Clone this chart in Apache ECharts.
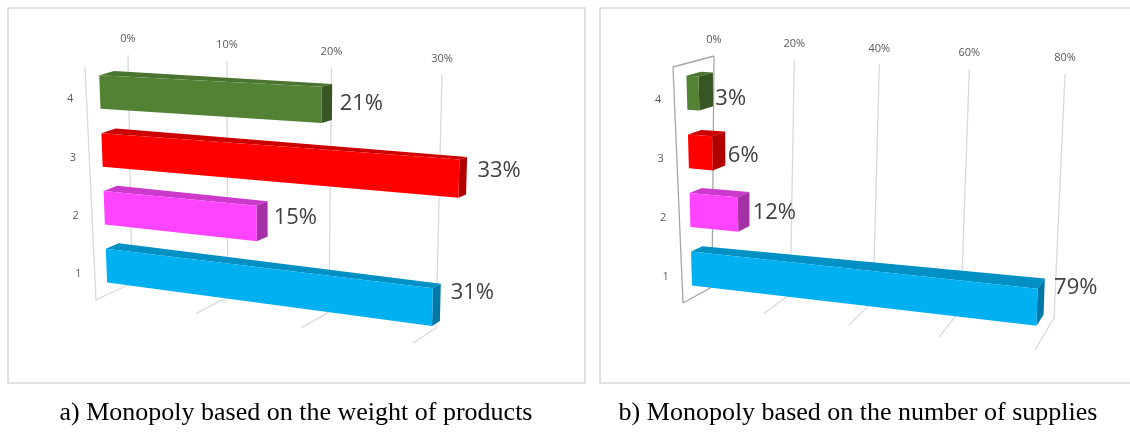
<!DOCTYPE html>
<html>
<head>
<meta charset="utf-8">
<title>Monopoly</title>
<script src="https://cdn.jsdelivr.net/npm/echarts@6/dist/echarts.min.js"></script>
<style>
  html, body { margin: 0; padding: 0; background: #fff; }
  #main { width: 1130px; height: 441px; }
</style>
</head>
<body>
<div id="main"></div>
<script>
  // data
  var categories = ['1', '2', '3', '4'];
  var weightShare = [31, 15, 33, 21];   // a) by weight of products, %
  var supplyShare = [79, 12, 6, 3];     // b) by number of supplies, %
  var weightTicks = [0, 10, 20, 30];
  var supplyTicks = [0, 20, 40, 60, 80];
  var captions = ['a) Monopoly based on the weight of products', 'b) Monopoly based on the number of supplies'];

  // front / top / side colour for each category
  var faces = [
    ['#00b0f0', '#0090c4', '#0079a8'],
    ['#ff44ff', '#cc3acc', '#a630a6'],
    ['#ff0000', '#cc0000', '#b00000'],
    ['#548235', '#4a7430', '#375623']
  ];

  // the 3d plot box of each panel: front edge (d=0) and back wall (d=1)
  // persp = how much the value axis stretches towards the right
  var frames = [
    {
      front: { tl: [85, 67], tr: [418, 80], bl: [96, 300], br: [413, 343] },
      back: { tl: [128, 55], tr: [442, 75], bl: [132, 283], br: [436, 328] },
      bar: [0.32, 0.67], persp: 0.08, sideTop: false
    },
    {
      front: { tl: [673, 67], tr: [1040, 88], bl: [683, 303], br: [1035, 350] },
      back: { tl: [714, 56], tr: [1065, 74], bl: [712, 287], br: [1054, 318] },
      bar: [0.32, 0.68], persp: 0.11, sideTop: true
    }
  ];

  function lerp(a, b, t) {
    return [a[0] + (b[0] - a[0]) * t, a[1] + (b[1] - a[1]) * t];
  }
  // u = along value axis, v = up, d = depth
  function project(f, u, v, d) {
    var c = f.persp;
    u = (1 - c) * u / (1 - c * u);
    var top = lerp(lerp(f.front.tl, f.front.tr, u), lerp(f.back.tl, f.back.tr, u), d);
    var bot = lerp(lerp(f.front.bl, f.front.br, u), lerp(f.back.bl, f.back.br, u), d);
    return lerp(bot, top, v);
  }
  function toUV(params, api, value, cat) {
    var cs = params.coordSys;
    var p = api.coord([value, cat]);
    return [(p[0] - cs.x) / cs.width, (cs.y + cs.height - p[1]) / cs.height];
  }

  function barItem(k) {
    return function (params, api) {
      var f = frames[k], cs = params.coordSys;
      var val = api.value(0), cat = api.value(1);
      var a = toUV(params, api, 0, cat), b = toUV(params, api, val, cat);
      var half = api.size([0, 1])[1] * 0.29 / cs.height;
      var u0 = a[0], u1 = b[0], vc = a[1], vb = vc - half, vt = vc + half;
      var d0 = f.bar[0], d1 = f.bar[1];
      var P = function (u, v, d) { return project(f, u, v, d); };
      var c = faces[cat];
      var lab = P(u1, vc, d1);
      return {
        type: 'group',
        children: [
          { type: 'polygon', shape: { points: [P(u0, vt, d0), P(u1, vt, d0), P(u1, vt, d1), P(u0, vt, d1)] }, style: { fill: c[1] } },
          { type: 'polygon', shape: { points: [P(u1, vb, d0), P(u1, vb, d1), P(u1, vt, d1), P(u1, vt, d0)] }, style: { fill: c[2] } },
          { type: 'polygon', shape: { points: [P(u0, vb, d0), P(u1, vb, d0), P(u1, vt, d0), P(u0, vt, d0)] }, style: { fill: c[0] } },
          {
            type: 'text', x: lab[0] + 2 + 8 * u1, y: lab[1] + 1.5 - 12 * u1 + 10 * vc,
            style: { text: val + '%', fill: '#404040', font: '22px "Open Sans"', textAlign: 'left', textVerticalAlign: 'middle' }
          }
        ]
      };
    };
  }

  function tickItem(k) {
    return function (params, api) {
      var f = frames[k], cs = params.coordSys;
      var t = api.value(0);
      var u = (api.coord([t, 0])[0] - cs.x) / cs.width;
      var top = project(f, u, 1, 1), bot = project(f, u, 0, 1), near = project(f, u, 0, 0);
      var line = { stroke: '#d9d9d9', lineWidth: 1.3 };
      var kids = [
        { type: 'line', shape: { x1: top[0], y1: top[1], x2: bot[0], y2: bot[1] }, style: line },
        { type: 'line', shape: { x1: bot[0], y1: bot[1], x2: near[0], y2: near[1] }, style: line },
        {
          type: 'text', x: top[0], y: top[1] - 16,
          style: { text: t + '%', fill: '#595959', font: '11px "Open Sans"', textAlign: 'center', textVerticalAlign: 'middle' }
        }
      ];
      if (params.dataIndex === 0) {
        var w1 = project(f, 0, 1, 0), w0 = project(f, 0, 0, 0), wb = project(f, 0, 1, 1);
        var wall = { stroke: f.sideTop ? '#a6a6a6' : '#d9d9d9', lineWidth: 1.3 };
        kids.push({ type: 'line', shape: { x1: w1[0], y1: w1[1], x2: w0[0], y2: w0[1] }, style: wall });
        if (f.sideTop) {
          kids.push({ type: 'line', shape: { x1: w1[0], y1: w1[1], x2: wb[0], y2: wb[1] }, style: wall });
          kids[0].style = wall;
          kids[1].style = wall;
        }
      }
      return { type: 'group', children: kids };
    };
  }

  function catItem(k) {
    return function (params, api) {
      var f = frames[k];
      var uv = toUV(params, api, 0, api.value(1));
      var p = project(f, 0, uv[1], 0);
      return {
        type: 'text', x: p[0] - 13, y: p[1] + 3,
        style: { text: categories[api.value(1)], fill: '#595959', font: '11px "Open Sans"', textAlign: 'right', textVerticalAlign: 'middle' }
      };
    };
  }

  var shares = [weightShare, supplyShare];
  var ticks = [weightTicks, supplyTicks];
  var series = [];
  [0, 1].forEach(function (k) {
    series.push({
      type: 'custom', xAxisIndex: k, yAxisIndex: k, z: 1, silent: true,
      renderItem: tickItem(k),
      data: ticks[k].map(function (t) { return [t, 0]; })
    });
    series.push({
      type: 'custom', xAxisIndex: k, yAxisIndex: k, z: 1, silent: true,
      renderItem: catItem(k),
      data: categories.map(function (c, i) { return [0, i]; })
    });
    series.push({
      type: 'custom', xAxisIndex: k, yAxisIndex: k, z: 2, silent: true,
      renderItem: barItem(k),
      data: shares[k].map(function (v, i) { return [v, i]; })
    });
  });

  var option = {
    animation: false,
    grid: [
      { left: 96, top: 67, width: 317, height: 233 },
      { left: 683, top: 67, width: 352, height: 236 }
    ],
    xAxis: [
      { gridIndex: 0, type: 'value', min: 0, max: 30, show: false },
      { gridIndex: 1, type: 'value', min: 0, max: 80, show: false }
    ],
    yAxis: [
      { gridIndex: 0, type: 'category', data: categories, show: false },
      { gridIndex: 1, type: 'category', data: categories, show: false }
    ],
    graphic: [
      { type: 'rect', shape: { x: 8, y: 8, width: 577, height: 375 }, style: { fill: 'none', stroke: '#d9d9d9', lineWidth: 1.6 } },
      { type: 'rect', shape: { x: 600, y: 8, width: 545, height: 375 }, style: { fill: 'none', stroke: '#d9d9d9', lineWidth: 1.6 } },
      { type: 'text', x: 296, y: 413, style: { text: captions[0], fill: '#000', font: '26px "Liberation Serif"', textAlign: 'center', textVerticalAlign: 'middle' } },
      { type: 'text', x: 858, y: 413, style: { text: captions[1], fill: '#000', font: '26px "Liberation Serif"', textAlign: 'center', textVerticalAlign: 'middle' } }
    ],
    series: series
  };

  var myChart = echarts.init(document.getElementById('main'));
  myChart.setOption(option);
</script>
</body>
</html>
